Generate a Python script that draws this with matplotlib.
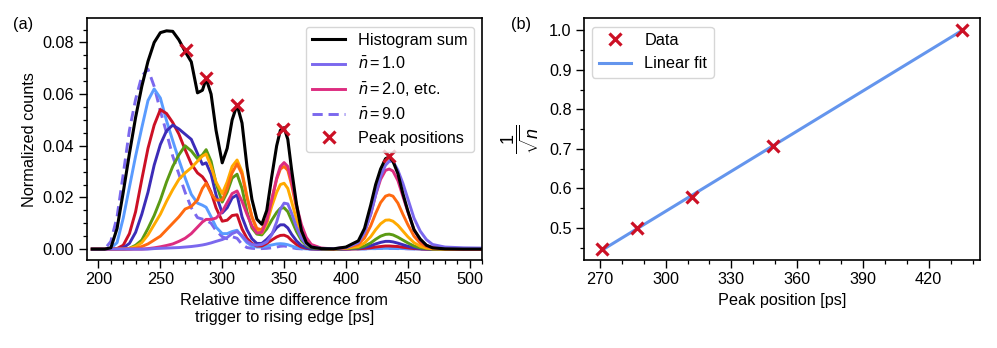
import numpy as np
import matplotlib
matplotlib.use("Agg")
import matplotlib.pyplot as plt
from matplotlib.ticker import MultipleLocator

plt.rcParams['font.family'] = ['Liberation Sans', 'DejaVu Sans']
plt.rcParams['mathtext.fontset'] = 'custom'
plt.rcParams['mathtext.rm'] = 'Liberation Sans'
plt.rcParams['mathtext.it'] = 'Liberation Sans:italic'
plt.rcParams['mathtext.bf'] = 'Liberation Sans:bold'
plt.rcParams['axes.linewidth'] = 1.2

# ---------------- data: panel (a) ----------------
time_ps = [195, 205, 210, 215, 220, 225, 230, 235, 240, 245, 250, 255, 260, 265, 270, 275,
           280, 284, 287, 291, 295, 300, 304, 308, 312, 316, 320, 324, 328, 332, 336, 340,
           344, 347, 350, 353, 356, 360, 364, 368, 372, 380, 390, 400, 410, 415, 420, 424,
           428, 432, 435, 438, 442, 446, 450, 455, 460, 465, 470, 480, 495, 510]

hist_sum = [0, 0, 0.0005, 0.008, 0.022, 0.037, 0.051, 0.063, 0.0727, 0.080, 0.0838, 0.0845, 0.0843, 0.081, 0.0765, 0.0725,
            0.0605, 0.0615, 0.066, 0.060, 0.046, 0.0334, 0.039, 0.050, 0.0559, 0.0488, 0.032, 0.0193, 0.0116, 0.0096, 0.015, 0.028,
            0.040, 0.046, 0.047, 0.0425, 0.031, 0.0175, 0.0072, 0.0025, 0.0008, 0.0002, 0.0001, 0.0008, 0.0032, 0.008, 0.017, 0.025,
            0.031, 0.035, 0.0357, 0.034, 0.0292, 0.0215, 0.0148, 0.0075, 0.0039, 0.0015, 0.0005, 0.0001, 0, 0]

nbar_1 = [0, 0, 0, 0, 0, 0, 0, 0, 0, 0.0002, 0.0003, 0.0004, 0.0005, 0.0006, 0.0008, 0.001,
          0.0013, 0.0016, 0.0019, 0.0024, 0.003, 0.0037, 0.0045, 0.006, 0.0068, 0.0052, 0.003, 0.0018, 0.0015, 0.0018, 0.0028, 0.0055,
          0.0105, 0.0155, 0.0178, 0.0175, 0.014, 0.0085, 0.0042, 0.0018, 0.0008, 0.0003, 0.0002, 0.0006, 0.0025, 0.0065, 0.0135, 0.021,
          0.0282, 0.0325, 0.034, 0.034, 0.0305, 0.0255, 0.0195, 0.012, 0.007, 0.0037, 0.0018, 0.0008, 0.0005, 0.0004]

nbar_2 = [0, 0, 0, 0, 0, 0, 0, 0, 0.0002, 0.0005, 0.0009, 0.0014, 0.002, 0.003, 0.0042, 0.006,
          0.0085, 0.0105, 0.0115, 0.0115, 0.012, 0.0145, 0.018, 0.0215, 0.0225, 0.0185, 0.0135, 0.009, 0.0062, 0.0065, 0.011, 0.019,
          0.0275, 0.032, 0.0335, 0.032, 0.0265, 0.017, 0.0095, 0.0045, 0.0018, 0.0004, 0.0001, 0.0006, 0.0028, 0.0065, 0.0135, 0.021,
          0.027, 0.0305, 0.031, 0.0302, 0.0265, 0.0205, 0.0145, 0.0075, 0.0035, 0.0015, 0.0006, 0.0002, 0, 0]

nbar_3 = [0, 0, 0, 0, 0, 0, 0.0003, 0.001, 0.002, 0.0035, 0.005, 0.0075, 0.010, 0.0125, 0.0155, 0.0165,
          0.019, 0.0235, 0.0255, 0.0215, 0.019, 0.019, 0.0235, 0.0295, 0.033, 0.029, 0.020, 0.0125, 0.008, 0.0075, 0.0115, 0.019,
          0.027, 0.031, 0.032, 0.0305, 0.025, 0.016, 0.0085, 0.0038, 0.0014, 0.0003, 0.0001, 0.0005, 0.0018, 0.0043, 0.009, 0.0138,
          0.018, 0.0205, 0.021, 0.0205, 0.0178, 0.0135, 0.0095, 0.005, 0.0023, 0.001, 0.0004, 0.0001, 0, 0]

nbar_4 = [0, 0, 0, 0, 0, 0.0003, 0.001, 0.0025, 0.0055, 0.0095, 0.0135, 0.0185, 0.023, 0.027, 0.0295, 0.0315,
          0.034, 0.036, 0.0368, 0.032, 0.026, 0.0215, 0.026, 0.032, 0.0345, 0.030, 0.0205, 0.0125, 0.0072, 0.0062, 0.0098, 0.0165,
          0.022, 0.025, 0.0255, 0.0235, 0.0185, 0.0115, 0.006, 0.0025, 0.001, 0.0002, 0.0001, 0.0003, 0.001, 0.0024, 0.0048, 0.0075,
          0.0098, 0.0112, 0.0113, 0.0108, 0.0092, 0.007, 0.0048, 0.0025, 0.0011, 0.0004, 0.0001, 0, 0, 0]

nbar_5 = [0, 0, 0, 0, 0, 0.0003, 0.0015, 0.0035, 0.008, 0.013, 0.019, 0.026, 0.032, 0.0365, 0.040, 0.038,
          0.035, 0.0365, 0.0385, 0.034, 0.0255, 0.0182, 0.022, 0.0275, 0.029, 0.0235, 0.0145, 0.0082, 0.0058, 0.0055, 0.0078, 0.0112,
          0.0142, 0.0158, 0.016, 0.0145, 0.0112, 0.0068, 0.0034, 0.0014, 0.0005, 0.0001, 0, 0.0002, 0.0005, 0.0012, 0.0024, 0.0038,
          0.005, 0.0057, 0.0058, 0.0055, 0.0046, 0.0035, 0.0024, 0.0012, 0.0005, 0.0002, 0, 0, 0, 0]

nbar_6 = [0, 0, 0, 0, 0.0005, 0.0022, 0.0065, 0.0135, 0.022, 0.0325, 0.0405, 0.0458, 0.048, 0.0465, 0.0445, 0.0425,
          0.037, 0.0328, 0.0334, 0.029, 0.021, 0.014, 0.016, 0.0198, 0.021, 0.0125, 0.0075, 0.004, 0.0022, 0.0022, 0.0038, 0.0058,
          0.0083, 0.0094, 0.0094, 0.0082, 0.0058, 0.0032, 0.0014, 0.0005, 0.0002, 0, 0, 0.0001, 0.0003, 0.0007, 0.0013, 0.002,
          0.0026, 0.003, 0.003, 0.0028, 0.0023, 0.0017, 0.0011, 0.0005, 0.0002, 0.0001, 0, 0, 0, 0]

nbar_7 = [0, 0, 0, 0.0002, 0.0015, 0.006, 0.0145, 0.027, 0.039, 0.048, 0.054, 0.0525, 0.049, 0.0445, 0.0385, 0.033,
          0.0295, 0.028, 0.026, 0.022, 0.016, 0.0108, 0.0112, 0.013, 0.0133, 0.0078, 0.0042, 0.0022, 0.0012, 0.0012, 0.0022, 0.0035,
          0.0047, 0.0053, 0.0054, 0.0048, 0.0034, 0.0018, 0.0008, 0.0003, 0.0001, 0, 0, 0, 0.0001, 0.0003, 0.0005, 0.0008,
          0.001, 0.0012, 0.0012, 0.0011, 0.001, 0.0007, 0.0005, 0.0002, 0.0001, 0, 0, 0, 0, 0]

nbar_8 = [0, 0, 0.0003, 0.0025, 0.012, 0.024, 0.036, 0.047, 0.0575, 0.062, 0.0585, 0.0497, 0.042, 0.0345, 0.0276, 0.0212,
          0.0178, 0.017, 0.0162, 0.0125, 0.0085, 0.006, 0.006, 0.0068, 0.0073, 0.0048, 0.0025, 0.0012, 0.0008, 0.0008, 0.0012, 0.0016,
          0.002, 0.0021, 0.002, 0.0017, 0.0012, 0.0006, 0.0002, 0.0001, 0, 0, 0, 0, 0.0001, 0.0001, 0.0002, 0.0002,
          0.0003, 0.0003, 0.0003, 0.0003, 0.0003, 0.0002, 0.0002, 0.0001, 0, 0, 0, 0, 0, 0]

nbar_9 = [0, 0, 0.003, 0.0125, 0.029, 0.046, 0.058, 0.067, 0.0697, 0.063, 0.0535, 0.045, 0.036, 0.029, 0.022, 0.016,
          0.0122, 0.0116, 0.0112, 0.010, 0.0072, 0.0048, 0.004, 0.0048, 0.0042, 0.0018, 0.0006, 0.0003, 0.0002, 0.0002, 0.0003, 0.0005,
          0.0008, 0.0011, 0.0012, 0.001, 0.0006, 0.0002, 0.0001, 0, 0, 0, 0, 0, 0.0001, 0.0001, 0.0002, 0.0002,
          0.0003, 0.0003, 0.0003, 0.0003, 0.0002, 0.0002, 0.0001, 0.0001, 0, 0, 0, 0, 0, 0]

peak_pos_ps = [271, 287, 312, 349, 435]
peak_counts = [0.0770, 0.0661, 0.0559, 0.0466, 0.0359]

# ---------------- data: panel (b) ----------------
photon_number = [5, 4, 3, 2, 1]

# ---------------- styles ----------------
mean_n_curves = [nbar_1, nbar_2, nbar_3, nbar_4, nbar_5, nbar_6, nbar_7, nbar_8, nbar_9]
curve_colors = ['#7b68ee', '#dd2d80', '#ff6a10', '#ffaa00', '#5b9a14',
                '#3c2cb8', '#cc1025', '#5a9bff', '#7b68ee']
curve_labels = [r'$\bar{n} = 1.0$', r'$\bar{n} = 2.0$, etc.'] + [None] * 6 + [r'$\bar{n} = 9.0$']
curve_styles = ['-'] * 8 + ['--']
marker_color = '#cc1025'

fig = plt.figure(figsize=(9.97, 3.48), dpi=100)
ax1 = fig.add_axes([0.087, 0.253, 0.3965, 0.694])
ax2 = fig.add_axes([0.5858, 0.253, 0.3972, 0.694])

FS = 11.7

# panel (a)
h_sum, = ax1.plot(time_ps, hist_sum, color='black', lw=2.2, label='Histogram sum', zorder=3)
handles = {}
for i in range(8, -1, -1):
    kw = {}
    if curve_styles[i] == '--':
        kw['dashes'] = (3.5, 2)
    ln, = ax1.plot(time_ps, mean_n_curves[i], color=curve_colors[i], lw=2.1,
                   ls=curve_styles[i], zorder=2 + (9 - i) * 0.01, **kw)
    handles[i] = ln
h_pk, = ax1.plot(peak_pos_ps, peak_counts, ls='none', marker='x', ms=9, mew=2.3,
                 color=marker_color, zorder=5)
ax1.legend([h_sum, handles[0], handles[1], handles[8], h_pk],
           ['Histogram sum', curve_labels[0], curve_labels[1], curve_labels[8], 'Peak positions'],
           loc='upper right', fontsize=FS, handlelength=2.0, borderaxespad=0.5)
ax1.set_xlim(190.5, 510)
ax1.set_ylim(-0.0042, 0.0893)
ax1.xaxis.set_major_locator(MultipleLocator(50))
ax1.xaxis.set_minor_locator(MultipleLocator(10))
ax1.yaxis.set_major_locator(MultipleLocator(0.02))
ax1.yaxis.set_minor_locator(MultipleLocator(0.005))
ax1.yaxis.set_major_formatter(matplotlib.ticker.FormatStrFormatter('%.2f'))
ax1.set_xlabel('Relative time difference from\ntrigger to rising edge [ps]', fontsize=FS)
ax1.set_ylabel('Normalized counts', fontsize=FS)

# panel (b)
inv_sqrt_n = 1.0 / np.sqrt(np.array(photon_number, dtype=float))
coef = np.polyfit(peak_pos_ps, inv_sqrt_n, 1)
xfit = np.array([min(peak_pos_ps), max(peak_pos_ps)])
ax2.plot(peak_pos_ps, inv_sqrt_n, ls='none', marker='x', ms=9, mew=2.3, color=marker_color,
         label='Data', zorder=4)
ax2.plot(xfit, np.polyval(coef, xfit), color='#6495ed', lw=2.2, label='Linear fit', zorder=3)
ax2.legend(loc='upper left', fontsize=FS, handlelength=2.0, borderaxespad=0.5)
ax2.set_xlim(262.8, 443.4)
ax2.set_ylim(0.4194, 1.0295)
ax2.xaxis.set_major_locator(MultipleLocator(30))
ax2.xaxis.set_minor_locator(MultipleLocator(10))
ax2.yaxis.set_major_locator(MultipleLocator(0.1))
ax2.yaxis.set_minor_locator(MultipleLocator(0.05))
ax2.set_xlabel('Peak position [ps]', fontsize=FS)
ax2.set_ylabel(r'$\dfrac{1}{\sqrt{n}}$', fontsize=13, labelpad=6)

for ax in (ax1, ax2):
    ax.tick_params(which='major', direction='out', length=5.5, width=1.0, labelsize=FS)
    ax.tick_params(which='minor', direction='out', length=3, width=0.9)

fig.text(0.023, 0.931, '(a)', fontsize=FS, ha='center', va='center')
fig.text(0.5225, 0.931, '(b)', fontsize=FS, ha='center', va='center')

fig.savefig('out.png', dpi=100)
